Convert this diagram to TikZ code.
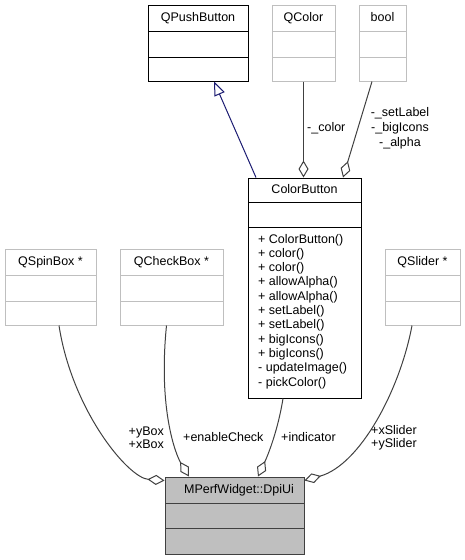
\documentclass[tikz,border=0pt]{standalone}
\usepackage{fontspec}
\setmainfont{Liberation Sans}
\usetikzlibrary{arrows.meta}
\definecolor{boxgray}{HTML}{BFBFBF}
\definecolor{edgegray}{HTML}{404040}
\definecolor{navyedge}{HTML}{191970}
\newcommand{\umlbox}[9]{%
  \node[#2, minimum width={(#5-#3)*1pt}, minimum height={(#6-#4)*1pt}] (#1) at ({(#3+#5)/2},{(#4+#6)/2}) {};
  \draw[#2] (#3,#7) -- (#5,#7) (#3,#8) -- (#5,#8);
  \node[titletext] (#1T) at ({(#3+#5)/2},{(#4+#7)/2}) {#9};
}
\begin{document}
\begin{tikzpicture}[x=1pt,y=-1pt, font=\fontsize{12.5}{14}\selectfont,
  box/.style={draw, line width=1pt, inner sep=0pt, fill=white},
  grayb/.style={box, draw=boxgray},
  blackb/.style={box, draw=black},
  mainb/.style={box, draw=edgegray, fill=boxgray},
  titletext/.style={inner sep=0pt, text height=9pt, text depth=2.5pt},
  member/.style={inner sep=0pt, anchor=base west},
  lbl/.style={inner sep=0pt, text=black},
  usage/.style={draw=edgegray, line width=1pt, -{Diamond[open, length=17pt, width=10pt, line width=1pt]}},
  inherit/.style={draw=navyedge, line width=1pt, -{Triangle[open, length=14pt, width=11pt, line width=1pt]}}]
\useasboundingbox (0,0) rectangle (465,560);

\umlbox{QPB}{blackb}{148}{5}{248}{81}{31}{57}{QPushButton}
\umlbox{QColor}{grayb}{272}{5}{335}{81}{31}{57}{QColor}
\umlbox{bool}{grayb}{359}{5}{406}{81}{31}{57}{bool}
\umlbox{CB}{blackb}{248}{178}{361}{398}{202}{227}{ColorButton}
\umlbox{QSpin}{grayb}{5}{249}{96}{325}{275}{301}{QSpinBox *}
\umlbox{QCheck}{grayb}{120}{249}{223}{325}{275}{301}{QCheckBox *}
\umlbox{QSlider}{grayb}{385}{249}{460}{325}{275}{301}{QSlider *}
\node[mainb, minimum width=139pt, minimum height=77pt] (Dpi) at (234.5,515.5) {};
\draw[mainb] (165,503) -- (304,503) (165,528) -- (304,528);
\node[titletext] (DpiT) at (239,490) {MPerfWidget::DpiUi};

\foreach \m [count=\i from 0] in {+ ColorButton(), + color(), + color(), + allowAlpha(), + allowAlpha(), + setLabel(), + setLabel(), + bigIcons(), + bigIcons(), - updateImage(), - pickColor()}
  \node[member] (CBm\i) at (258, {243+14.3*\i}) {\m};

% connectors
\draw[inherit] ([xshift=-48.5pt]CB.north) -- ([xshift=16pt]QPB.south);
\draw[usage] (QColor.south) -- (QColor.south |- CB.north);
\draw[usage] ([xshift=-10.5pt]bool.south) -- ([xshift=38.5pt]CB.north);
\draw[usage] ([xshift=8.5pt]QSpin.south) .. controls (72,410) and (128,478) .. ([yshift=-4pt]Dpi.north west);
\draw[usage] ([xshift=-5pt]QCheck.south) .. controls (158,410) and (176,455) .. ([xshift=-45.5pt]Dpi.north);
\draw[usage] ([xshift=-21.5pt]CB.south) .. controls (278,430) and (268,455) .. ([xshift=23.5pt]Dpi.north);
\draw[usage] ([xshift=-10.5pt]QSlider.south) .. controls (400,390) and (360,465) .. ([yshift=-4pt]Dpi.north east);

% labels
\node[lbl, anchor=west] (lColor) at (307,128) {-\_color};
\node[lbl, align=center, font=\fontsize{12.5}{15}\selectfont] (lBool) at (400,128) {-\_setLabel\\-\_bigIcons\\-\_alpha};
\node[lbl, align=right, anchor=east, font=\fontsize{12.5}{13}\selectfont] (lBox) at (164,437.5) {+yBox\\+xBox};
\node[lbl, anchor=west] (lCheck) at (183,437) {+enableCheck};
\node[lbl, anchor=west] (lInd) at (281,437) {+indicator};
\node[lbl, align=center, font=\fontsize{12.5}{13}\selectfont] (lSl) at (394,437.5) {+xSlider\\+ySlider};
\end{tikzpicture}
\end{document}
